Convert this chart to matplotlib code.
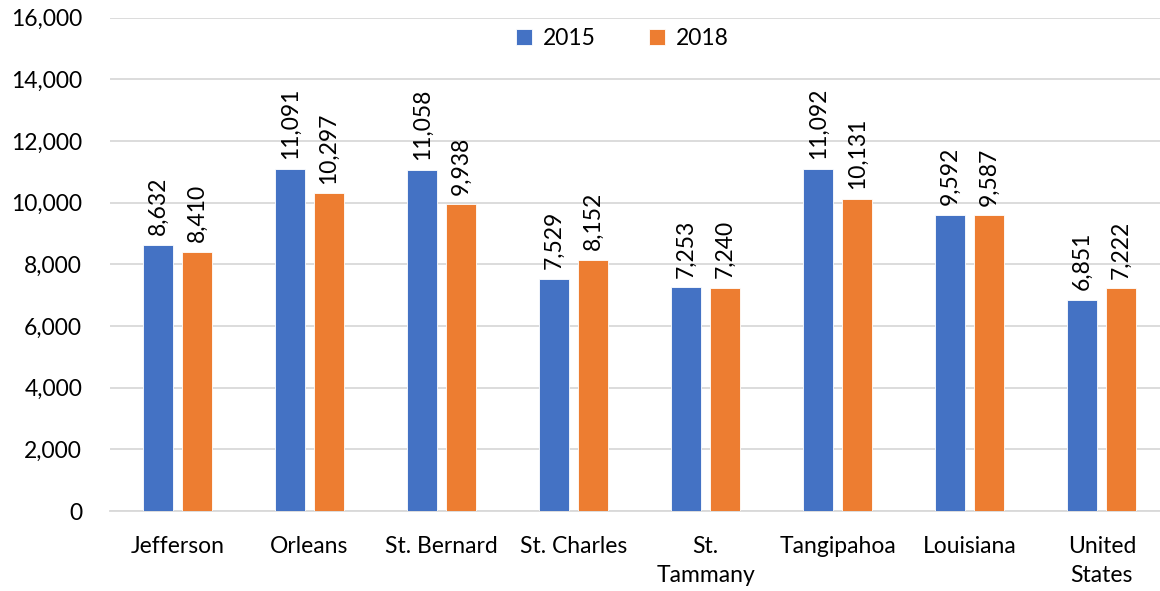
import matplotlib
matplotlib.use('Agg')
import matplotlib.pyplot as plt
import numpy as np

# Data
categories = ['Jefferson', 'Orleans', 'St. Bernard', 'St. Charles', 'St.\nTammany',
              'Tangipahoa', 'Louisiana', 'United\nStates']
values_2015 = [8632, 11091, 11058, 7529, 7253, 11092, 9592, 6851]
values_2018 = [8410, 10297, 9938, 8152, 7240, 10131, 9587, 7222]
series_names = ['2015', '2018']
colors = ['#4472C4', '#ED7D31']

plt.rcParams['font.family'] = ['Lato', 'DejaVu Sans']
FS = 16.5

fig = plt.figure(figsize=(11.6, 5.91), dpi=100)
ax = fig.add_axes([110 / 1160, 80 / 591, 1050 / 1160, 493.5 / 591])

x = np.arange(len(categories))
width = 0.227
offset = 0.147

for vals, name, color, sign in zip([values_2015, values_2018], series_names, colors, [-1, 1]):
    bars = ax.bar(x + sign * offset, vals, width, color=color, label=name,
                  edgecolor='white', linewidth=0.6, zorder=3)
    for b, v in zip(bars, vals):
        ax.annotate(f'{v:,}', (b.get_x() + b.get_width() / 2, v),
                    xytext=(0, 7), textcoords='offset points',
                    rotation=90, ha='center', va='bottom', fontsize=FS)

ax.set_ylim(0, 16000)
ax.set_xlim(-0.51, 7.44)
ax.set_yticks(np.arange(0, 16001, 2000))
ax.set_yticklabels([f'{t:,}' for t in range(0, 16001, 2000)])
ax.set_xticks(x)
ax.set_xticklabels(categories, linespacing=1.45)
ax.tick_params(axis='both', length=0, labelsize=FS)
ax.tick_params(axis='y', pad=20)
ax.tick_params(axis='x', pad=18)

ax.yaxis.grid(True, color='#D9D9D9', linewidth=1.3, zorder=0)
for s in ['top', 'right', 'left']:
    ax.spines[s].set_visible(False)
ax.spines['bottom'].set_color('#D9D9D9')
ax.spines['bottom'].set_linewidth(1.3)

ax.legend(loc='upper center', bbox_to_anchor=(0.488, 1.02), ncol=2, frameon=False,
          fontsize=FS, handlelength=0.7, handleheight=0.7, columnspacing=2.3,
          handletextpad=0.5)

fig.savefig('out.png', dpi=100)
